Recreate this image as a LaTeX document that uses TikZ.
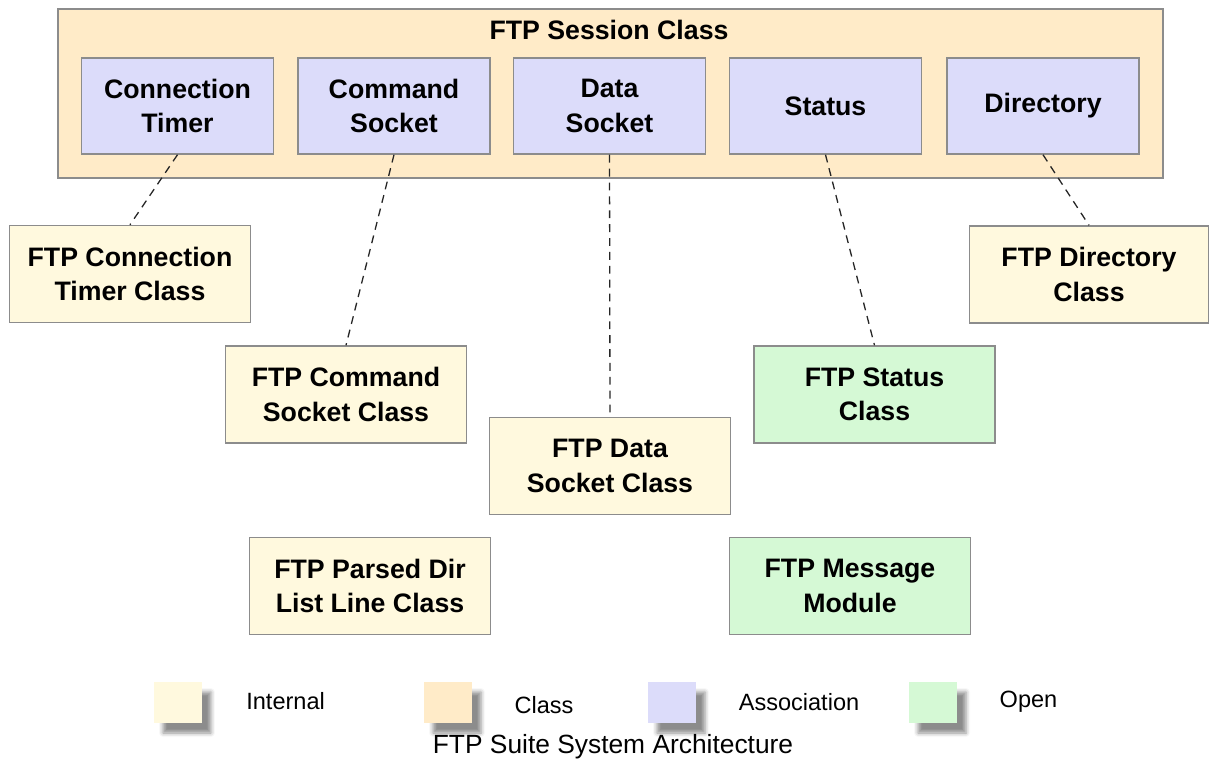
\documentclass[tikz,border=0pt]{standalone}
\usepackage{fontspec}
\setmainfont{Liberation Sans}
\usepackage{tikz}
\usetikzlibrary{
  positioning,
  shadows.blur
}
\definecolor{classfill}{HTML}{FFEBC8}
\definecolor{assocfill}{HTML}{DCDCFA}
\definecolor{internfill}{HTML}{FFF9DE}
\definecolor{openfill}{HTML}{D5F9D5}
\definecolor{boxline}{HTML}{8C8C8C}
\tikzset{
  box/.style={draw=boxline, line width=0.03cm, inner sep=0pt, align=center,
    font=\bfseries\fontsize{15.2}{19.6}\selectfont},
  assocbox/.style={box, fill=assocfill, minimum width=3.84cm, minimum height=1.92cm},
  internbox/.style={box, fill=internfill, minimum width=4.82cm, minimum height=1.94cm},
  openbox/.style={box, fill=openfill, minimum width=4.82cm, minimum height=1.94cm},
  link/.style={line width=0.026cm, black!85, dash pattern=on 4.5pt off 3.4pt},
  legendsq/.style={minimum width=0.96cm, minimum height=0.82cm, inner sep=0pt,
    blur shadow={shadow xshift=0.18cm, shadow yshift=-0.2cm, shadow blur radius=0.08cm, shadow opacity=45}},
  legendtxt/.style={font=\fontsize{13.4}{16}\selectfont, inner sep=0pt}
}

\begin{document}
\begin{tikzpicture}[x=0.02cm, y=-0.02cm]

    \useasboundingbox (0,0) rectangle (1209,761);

    % session class with its members
    \node[box, fill=classfill, minimum width=22.1cm, minimum height=3.38cm] (session) at (610.5,93.5) {};
    \node[font=\bfseries\fontsize{15.2}{19.6}\selectfont] (sessiontitle) at (609,30) {FTP Session Class};

    \node[assocbox] (ctimer)   at (177.5,106) {Connection\\Timer};
    \node[assocbox] (cmdsock)  at (394,106)   {Command\\Socket};
    \node[assocbox] (datasock) at (609.5,106) {Data\\Socket};
    \node[assocbox] (status)   at (825.5,106) {Status};
    \node[assocbox] (dir)      at (1043,106)  {Directory};

    % classes
    \node[internbox] (ctimerclass) at (130,274)     {FTP Connection\\Timer Class};
    \node[internbox, minimum width=4.78cm] (dirclass) at (1089,274.5) {FTP Directory\\Class};
    \node[internbox] (cmdclass)    at (346,394.5)   {FTP Command\\Socket Class};
    \node[openbox]   (statusclass) at (874.5,394.5) {FTP Status\\Class};
    \node[internbox] (dataclass)   at (610,466)     {FTP Data\\Socket Class};
    \node[internbox] (parsedclass) at (370,586)     {FTP Parsed Dir\\List Line Class};
    \node[openbox]   (msgmodule)   at (850,586)     {FTP Message\\Module};

    % associations
    \draw[link] (ctimer.south)   -- (ctimerclass.north);
    \draw[link] (cmdsock.south)  -- (cmdclass.north);
    \draw[link] (datasock.south) -- (dataclass.north);
    \draw[link] (status.south)   -- (statusclass.north);
    \draw[link] (dir.south)      -- (dirclass.north);

    % legend
    \node[legendsq, fill=internfill] (leginternal) at (178,702.5) {};
    \node[legendtxt, anchor=west] (leginternaltxt) at (246,701) {Internal};
    \node[legendsq, fill=classfill] (legclass) at (448,702.5) {};
    \node[legendtxt] (legclasstxt) at (544,705) {Class};
    \node[legendsq, fill=assocfill] (legassoc) at (672,702.5) {};
    \node[legendtxt] (legassoctxt) at (799,702) {Association};
    \node[legendsq, fill=openfill] (legopen) at (933,702.5) {};
    \node[legendtxt] (legopentxt) at (1028.5,702) {Open};

    % caption
    \node[font=\fontsize{15}{18}\selectfont, inner sep=0pt] (caption) at (613,747) {FTP Suite System Architecture};

\end{tikzpicture}
\end{document}
